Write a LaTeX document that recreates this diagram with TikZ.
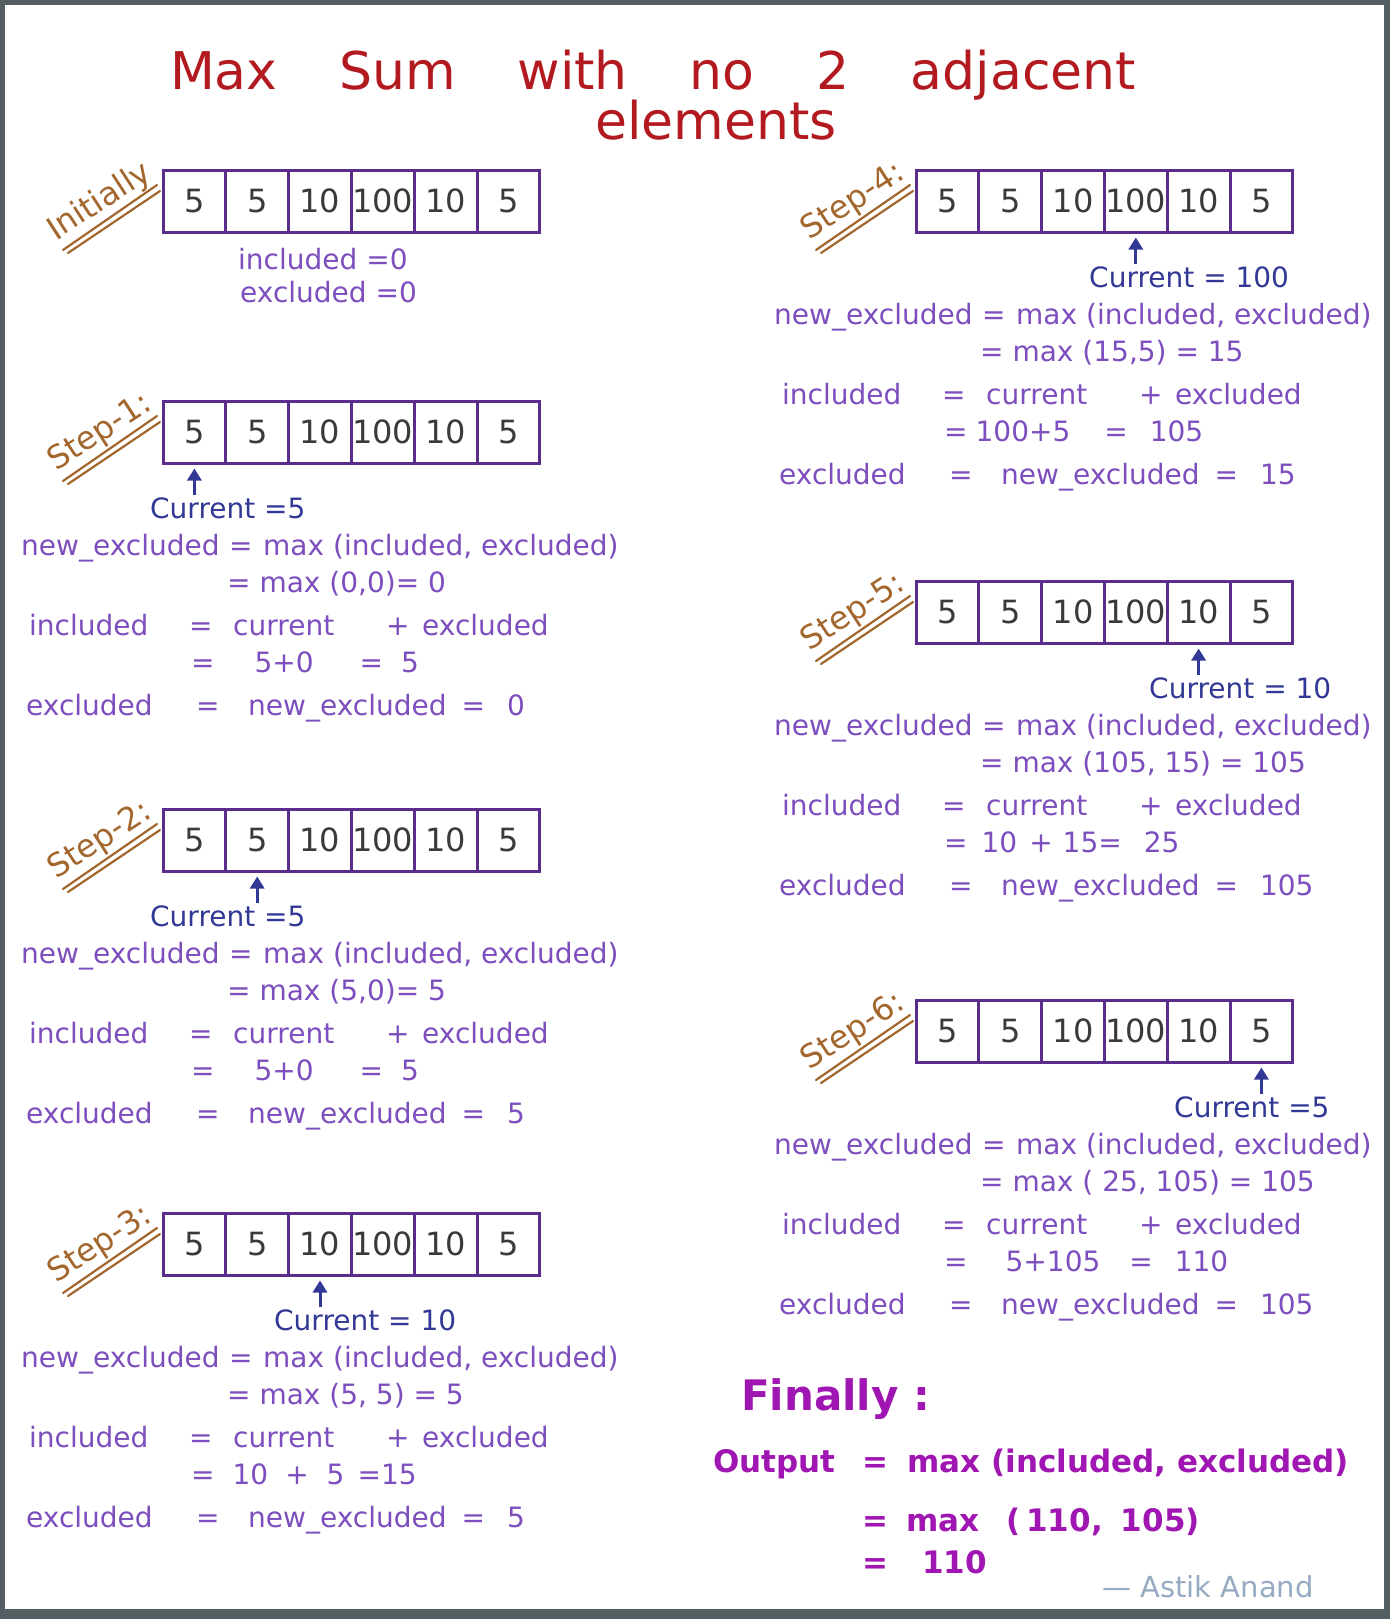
\documentclass[tikz,border=0pt]{standalone}
\usepackage{fontspec}
\setmainfont{DejaVu Sans}
\usetikzlibrary{arrows.meta,calc}
\definecolor{framegray}{RGB}{84,94,98}
\definecolor{titlered}{RGB}{178,26,32}
\definecolor{arrcol}{RGB}{90,45,140}
\definecolor{digcol}{RGB}{58,58,58}
\definecolor{lblbrown}{RGB}{163,103,45}
\definecolor{curblue}{RGB}{50,56,150}
\definecolor{eqpurple}{RGB}{124,78,190}
\definecolor{finmag}{RGB}{160,22,178}
\definecolor{sigcol}{RGB}{150,170,195}
\tikzset{
  cell/.style={draw=arrcol, line width=3pt, minimum width=62.8pt, minimum height=62pt, inner sep=0pt, text=digcol, font=\fontsize{32}{38}\selectfont},
  lbl/.style={text=lblbrown, font=\fontsize{32}{38}\selectfont, rotate=33, inner sep=0pt},
  uline/.style={draw=lblbrown, line width=2.2pt, line cap=round},
  cur/.style={text=curblue, font=\fontsize{28}{34}\selectfont, anchor=mid west, inner sep=0pt},
  ptr/.style={draw=curblue, line width=3pt, -{Triangle[width=14pt,length=12pt]}, shorten >=4pt},
  eq/.style={text=eqpurple, font=\fontsize{28}{34}\selectfont, anchor=mid west, inner sep=0pt},
  titletxt/.style={text=titlered, font=\fontsize{52}{60}\selectfont, inner sep=0pt},
  fintxt/.style={text=finmag, font=\fontsize{31}{38}\selectfont\bfseries, anchor=mid west, inner sep=0pt},
  sigtxt/.style={text=sigcol, font=\fontsize{29}{34}\selectfont, anchor=mid west, inner sep=0pt}
}
\newcommand\drawarr[3]{\foreach \v [count=\i] in {5,5,10,100,10,5}{\node[cell] (#1-\i) at ({#2+31.4+62.8*(\i-1)},{#3+31}) {\v};}}
\newcommand\steplabel[4]{%
  \node[lbl] (#1-lab) at ({#2-63},{#3+32}) {#4};
  \coordinate (#1-ua) at ({#2-100},{#3+80});
  \coordinate (#1-ub) at ({#2-6},{#3+15});
  \coordinate (#1-va) at ({#2-95},{#3+83});
  \coordinate (#1-vb) at ({#2-3},{#3+21});
  \draw[uline] (#1-ua) -- (#1-ub);
  \draw[uline] (#1-va) -- (#1-vb);}
\newcommand\pointer[2]{%
  \coordinate (#1-tail) at ($(#1-#2.south)+(0,30)$);
  \draw[ptr] (#1-tail) -- (#1-#2.south);}
\newcommand\newexline{\makebox[208pt][l]{new\_excluded}\makebox[34pt][l]{=}max (included, excluded)}
\newcommand\inclline{\makebox[160pt][l]{included}\makebox[44pt][l]{=}\makebox[153pt][l]{current}\makebox[36pt][l]{+}excluded}
\newcommand\exclline[1]{\makebox[170pt][l]{excluded}\makebox[52pt][l]{=}new\_excluded\hspace{15pt}=\hspace{22pt}#1}
\newcommand\stepblock[6]{%
  \node[eq] (#1-new) at ({21+#2},{#3+152}) {\newexline};
  \node[eq] (#1-max) at ({227+#2},{#3+189}) {#4};
  \node[eq] (#1-inc) at ({29+#2},{#3+232}) {\inclline};
  \node[eq] (#1-eqv) at ({191+#2},{#3+269}) {#5};
  \node[eq] (#1-exc) at ({26+#2},{#3+312}) {\exclline{#6}};}
\begin{document}
\begin{tikzpicture}[x=1pt,y=-1pt]
\useasboundingbox (0,0) rectangle (1390,1619);
\fill[framegray] (0,0) rectangle (1390,1619);
\fill[white] (5,5) rectangle (1384,1609);
% title
\node[titletxt, anchor=base] (title1) at (653,89) {\makebox[966pt][s]{Max Sum with no 2 adjacent}};
\node[titletxt, anchor=base] (title2) at (716,139) {elements};
% Initially
\drawarr{s0}{163}{170}
\steplabel{s0}{163}{170}{Initially}
\node[eq] (s0-inc) at (238,267) {included =0};
\node[eq] (s0-exc) at (240,300) {excluded =0};
% Step 1
\drawarr{s1}{163}{401}
\steplabel{s1}{163}{401}{Step-1:}
\pointer{s1}{1}
\node[cur] (s1-cur) at (150,516) {Current =5};
\stepblock{s1}{0}{401}{= max (0,0)= 0}{=\hspace{40pt}5+0\hspace{46pt}=\hspace{18pt}5}{0}
% Step 2
\drawarr{s2}{163}{809}
\steplabel{s2}{163}{809}{Step-2:}
\pointer{s2}{2}
\node[cur] (s2-cur) at (150,924) {Current =5};
\stepblock{s2}{0}{809}{= max (5,0)= 5}{=\hspace{40pt}5+0\hspace{46pt}=\hspace{18pt}5}{5}
% Step 3
\drawarr{s3}{163}{1213}
\steplabel{s3}{163}{1213}{Step-3:}
\pointer{s3}{3}
\node[cur] (s3-cur) at (274,1328) {Current = 10};
\stepblock{s3}{0}{1213}{= max (5, 5) = 5}{=\hspace{18pt}10\hspace{17pt}+\hspace{18pt}5\hspace{13pt}=15}{5}
% Step 4
\drawarr{s4}{916}{170}
\steplabel{s4}{916}{170}{Step-4:}
\pointer{s4}{4}
\node[cur] (s4-cur) at (1089,285) {Current = 100};
\stepblock{s4}{753}{170}{= max (15,5) = 15}{=\hspace{8pt}100+5\hspace{34pt}=\hspace{22pt}105}{15}
% Step 5
\drawarr{s5}{916}{581}
\steplabel{s5}{916}{581}{Step-5:}
\pointer{s5}{5}
\node[cur] (s5-cur) at (1149,696) {Current = 10};
\stepblock{s5}{753}{581}{= max (105, 15) = 105}{=\hspace{14pt}10\hspace{12pt}+\hspace{10pt}15=\hspace{22pt}25}{105}
% Step 6
\drawarr{s6}{916}{1000}
\steplabel{s6}{916}{1000}{Step-6:}
\pointer{s6}{6}
\node[cur] (s6-cur) at (1174,1115) {Current =5};
\stepblock{s6}{753}{1000}{= max ( 25, 105) = 105}{=\hspace{38pt}5+105\hspace{29pt}=\hspace{22pt}110}{105}
% Finally
\node[fintxt, font=\fontsize{42}{48}\selectfont\bfseries] (fin) at (741,1408) {Finally :};
\node[fintxt] (out1) at (713,1470) {\makebox[149pt][l]{Output}\makebox[45pt][l]{=}max (included, excluded)};
\node[fintxt] (out2) at (862,1529) {\makebox[44pt][l]{=}\makebox[100pt][l]{max}(\hspace{6pt}110,\hspace{18pt}105)};
\node[fintxt] (out3) at (862,1571) {\makebox[60pt][l]{=}110};
\node[sigtxt] (sig) at (1102,1595) {— Astik Anand};
\end{tikzpicture}
\end{document}
